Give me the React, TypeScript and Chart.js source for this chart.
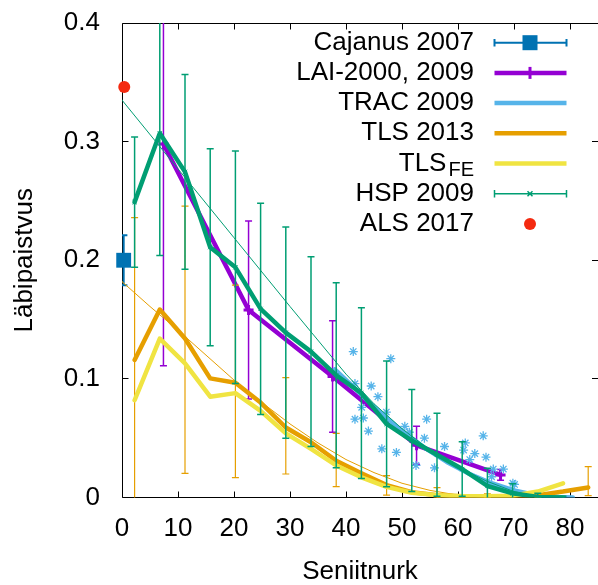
import React, { useEffect, useRef } from 'react';
import { Chart, registerables } from 'chart.js';

Chart.register(...registerables);

const FONT = '"Liberation Sans", Arial, Helvetica, sans-serif';

const BLUE = '#0072b2';
const PURPLE = '#9400d3';
const SKY = '#56b4e9';
const ORANGE = '#e69f00';
const YELLOW = '#f0e442';
const GREEN = '#009e73';
const RED = '#f42a10';

// axis ticks
const xTickValues = [0, 10, 20, 30, 40, 50, 60, 70, 80];
const yTickValues = [0, 0.1, 0.2, 0.3, 0.4];

// legend
const legendLabels = ['Cajanus 2007', 'LAI-2000, 2009', 'TRAC 2009', 'TLS 2013', 'TLS', 'HSP 2009', 'ALS 2017'];
const legendSubscripts = ['', '', '', '', 'FE', '', ''];

// Cajanus 2007
const cajanusAngles = [0.3];
const cajanusValues = [0.2];
const cajanusErrors = [0.021];

// ALS 2017
const alsAngles = [0.4];
const alsValues = [0.346];

// LAI-2000, 2009
const laiAngles = [7.4, 22.6, 37.6, 52.6, 67.6];
const laiValues = [0.298, 0.158, 0.102, 0.044, 0.019];
const laiErrors = [0.187, 0.075, 0.047, 0.016, 0.0045];

// TRAC 2009 (line + scattered points)
const tracAngles = [38, 42, 46, 50, 54, 58, 62, 66, 70, 74, 78, 80.5];
const tracValues = [0.108, 0.09, 0.072, 0.056, 0.042, 0.03, 0.02, 0.012, 0.006, 0.002, 0.0005, 0];
const tracPointAngles = [41.3, 48.0, 44.5, 45.7, 41.6, 43.1, 42.8, 44.0, 46.4, 49.0, 54.4, 54.0, 51.3, 52.5, 55.8, 57.6, 61.3, 64.5, 63.0, 65.0, 61.0, 62.1, 66.3, 68.1, 69.8, 66.0, 70.1, 41.6, 47.2, 50.5];
const tracPointValues = [0.123, 0.117, 0.094, 0.085, 0.066, 0.067, 0.076, 0.056, 0.041, 0.038, 0.066, 0.05, 0.055, 0.027, 0.025, 0.043, 0.046, 0.052, 0.037, 0.034, 0.04, 0.032, 0.024, 0.024, 0.012, 0.0175, 0.011, 0.096, 0.072, 0.06];

// HSP / TLS zenith angles
const hspAngles = [2.25, 6.75, 11.25, 15.75, 20.25, 24.75, 29.25, 33.75, 38.25, 42.75, 47.25, 51.75, 56.25, 60.75, 65.25, 69.75, 74.25, 78.75];
const hspValues = [0.249, 0.307, 0.2745, 0.211, 0.194, 0.159, 0.139, 0.123, 0.103, 0.088, 0.062, 0.048, 0.036, 0.024, 0.0097, 0.0035, 0.0005, 0];
const hspErrors = [0.055, 0.103, 0.082, 0.083, 0.098, 0.089, 0.089, 0.08, 0.078, 0.072, 0.053, 0.043, 0.035, 0.023, 0.015, 0.008, 0.003, 0.001];
const hspFitAngles = [0, 10, 20, 30, 40, 45, 50, 55, 60, 65, 70, 75];
const hspFitValues = [0.335, 0.277, 0.219, 0.161, 0.104, 0.079, 0.058, 0.04, 0.026, 0.014, 0.005, 0];

// TLS 2013
const tlsAngles = [2.25, 6.75, 11.25, 15.75, 20.25, 24.75, 29.25, 33.75, 38.25, 42.75, 47.25, 51.75, 56.25, 60.75, 65.25, 69.75, 74.25, 78.75, 83.25];
const tls2013Values = [0.116, 0.1585, 0.134, 0.1004, 0.0967, 0.08, 0.059, 0.0466, 0.031, 0.0205, 0.0105, 0.0045, 0.002, 0.001, 0.0008, 0.001, 0.002, 0.005, 0.0085];
const tlsErrAngles = [2.25, 11.25, 20.25, 29.25, 38.25, 47.25, 56.25, 65.25, 74.25, 83.25];
const tlsErrLow = [-0.005, 0.0204, 0.0167, 0.0198, 0.0091, 0.002, 0, 0, 0, 0.0015];
const tlsErrHigh = [0.236, 0.2456, 0.179, 0.101, 0.054, 0.0184, 0.0083, 0.003, 0.004, 0.026];
const tlsFitAngles = [0, 5, 10, 15, 20, 25, 30, 35, 40, 45, 50, 55, 60, 65];
const tlsFitValues = [0.182, 0.161, 0.141, 0.12, 0.099, 0.08, 0.062, 0.046, 0.032, 0.021, 0.012, 0.006, 0.002, 0];

// TLS FE
const tlsFeAngles = [2.25, 6.75, 11.25, 15.75, 20.25, 24.75, 29.25, 33.75, 38.25, 42.75, 47.25, 51.75, 56.25, 60.75, 65.25, 69.75, 74.25, 78.75];
const tlsFeValues = [0.082, 0.134, 0.113, 0.085, 0.088, 0.073, 0.054, 0.041, 0.027, 0.017, 0.009, 0.004, 0.002, 0.001, 0.001, 0.0015, 0.005, 0.012];

type P = { x: number; y: number | null };

function pts(xs: number[], ys: number[]): P[] {
  return xs.map((x, i) => ({ x, y: ys[i] }));
}

function errPts(xs: number[], lo: number[], hi: number[]): P[] {
  const out: P[] = [];
  xs.forEach((x, i) => {
    out.push({ x, y: lo[i] }, { x, y: hi[i] }, { x, y: null });
  });
  return out;
}

function errSym(xs: number[], ys: number[], es: number[]): P[] {
  return errPts(
    xs,
    ys.map((y, i) => y - es[i]),
    ys.map((y, i) => y + es[i])
  );
}

function errSet(data: P[], color: string, width: number, cap: number) {
  return {
    type: 'line',
    data,
    borderColor: color,
    backgroundColor: color,
    borderWidth: width,
    pointStyle: 'line',
    pointRadius: cap,
    pointBorderColor: color,
    pointBorderWidth: width,
    pointBackgroundColor: color,
    spanGaps: false,
    tension: 0,
    fill: false,
  };
}

function lineSet(data: P[], color: string, width: number, extra: any = {}) {
  return {
    type: 'line',
    data,
    borderColor: color,
    backgroundColor: color,
    borderWidth: width,
    pointRadius: 0,
    tension: 0,
    fill: false,
    borderJoinStyle: 'round',
    borderCapStyle: 'round',
    ...extra,
  };
}

const framePlugin = {
  id: 'gpFrame',
  beforeDatasetsDraw(chart: any) {
    const { ctx, chartArea: a, scales } = chart;
    const xs = scales.x;
    const ys = scales.y;
    ctx.save();
    ctx.strokeStyle = '#000';
    ctx.lineWidth = 1;
    ctx.beginPath();
    const L = a.left + 0.5;
    const T = a.top + 0.5;
    const B = a.bottom;
    const R = a.right;
    ctx.moveTo(R + 2, T);
    ctx.lineTo(L, T);
    ctx.lineTo(L, B);
    ctx.lineTo(R + 2, B);
    const tl = 6;
    xTickValues.forEach((v) => {
      if (v === 0) return;
      const px = Math.round(xs.getPixelForValue(v)) + 0.5;
      ctx.moveTo(px, B);
      ctx.lineTo(px, B - tl);
      ctx.moveTo(px, T);
      ctx.lineTo(px, T + tl);
    });
    yTickValues.forEach((v) => {
      const py = Math.round(ys.getPixelForValue(v) - 0.5) + 0.5;
      ctx.moveTo(L, py);
      ctx.lineTo(L + tl, py);
      ctx.moveTo(R, py);
      ctx.lineTo(R - tl, py);
    });
    ctx.stroke();
    ctx.restore();
  },
};

const legendPlugin = {
  id: 'gpLegend',
  afterDraw(chart: any) {
    const ctx = chart.ctx as CanvasRenderingContext2D;
    const textRight = 474;
    const x0 = 494.5;
    const x1 = 566.5;
    const xm = 530;
    const y0 = 42.7;
    const dy = 30.2;
    ctx.save();
    legendLabels.forEach((label, i) => {
      const y = y0 + i * dy;
      ctx.fillStyle = '#000';
      ctx.textBaseline = 'middle';
      ctx.textAlign = 'right';
      const sub = legendSubscripts[i];
      if (sub) {
        ctx.font = `20px ${FONT}`;
        const w = ctx.measureText(sub).width;
        ctx.fillText(sub, textRight, y + 7);
        ctx.font = `26px ${FONT}`;
        ctx.fillText(label, textRight - w - 2, y);
      } else {
        ctx.font = `26px ${FONT}`;
        ctx.fillText(label, textRight, y);
      }
      ctx.lineCap = 'butt';
      if (i === 0) {
        ctx.strokeStyle = BLUE;
        ctx.lineWidth = 2;
        ctx.beginPath();
        ctx.moveTo(x0, y);
        ctx.lineTo(x1, y);
        ctx.moveTo(x0, y - 3.7);
        ctx.lineTo(x0, y + 3.7);
        ctx.moveTo(x1, y - 3.7);
        ctx.lineTo(x1, y + 3.7);
        ctx.stroke();
        ctx.fillStyle = BLUE;
        ctx.fillRect(xm - 7.5, y - 7.5, 15, 15);
      } else if (i === 1) {
        ctx.strokeStyle = PURPLE;
        ctx.lineWidth = 4.5;
        ctx.beginPath();
        ctx.moveTo(x0, y);
        ctx.lineTo(x1, y);
        ctx.stroke();
        ctx.lineWidth = 3;
        ctx.beginPath();
        ctx.moveTo(xm, y - 6);
        ctx.lineTo(xm, y + 6);
        ctx.stroke();
      } else if (i >= 2 && i <= 4) {
        ctx.strokeStyle = i === 2 ? SKY : i === 3 ? ORANGE : YELLOW;
        ctx.lineWidth = 4.5;
        ctx.beginPath();
        ctx.moveTo(x0, y);
        ctx.lineTo(x1, y);
        ctx.stroke();
      } else if (i === 5) {
        ctx.strokeStyle = GREEN;
        ctx.lineWidth = 1.5;
        ctx.beginPath();
        ctx.moveTo(x0, y);
        ctx.lineTo(x1, y);
        ctx.moveTo(x0, y - 3.7);
        ctx.lineTo(x0, y + 3.7);
        ctx.moveTo(x1, y - 3.7);
        ctx.lineTo(x1, y + 3.7);
        ctx.moveTo(xm - 2.5, y - 2.5);
        ctx.lineTo(xm + 2.5, y + 2.5);
        ctx.moveTo(xm - 2.5, y + 2.5);
        ctx.lineTo(xm + 2.5, y - 2.5);
        ctx.stroke();
      } else if (i === 6) {
        ctx.fillStyle = RED;
        ctx.beginPath();
        ctx.arc(xm, y, 6, 0, Math.PI * 2);
        ctx.fill();
      }
    });
    ctx.restore();
  },
};

function buildDatasets() {
  const list: any[] = [
    errSet(errSym(cajanusAngles, cajanusValues, cajanusErrors), BLUE, 2, 3.7),
    {
      type: 'line',
      data: pts(cajanusAngles, cajanusValues),
      showLine: false,
      pointStyle: 'rect',
      pointRadius: 10.5,
      pointBackgroundColor: BLUE,
      pointBorderColor: BLUE,
      pointBorderWidth: 0,
      clip: false,
    },
    errSet(errSym(laiAngles, laiValues, laiErrors), PURPLE, 1.5, 3.5),
    lineSet(pts(laiAngles, laiValues), PURPLE, 4.5, {
      pointStyle: 'cross',
      pointRadius: 5,
      pointBorderWidth: 3,
      pointBorderColor: PURPLE,
    }),
    lineSet(pts(tracAngles, tracValues), SKY, 4.5),
    {
      type: 'line',
      data: pts(tracPointAngles, tracPointValues),
      showLine: false,
      pointStyle: 'star',
      pointRadius: 4.5,
      pointBorderColor: SKY,
      pointBackgroundColor: SKY,
      pointBorderWidth: 1.3,
    },
    errSet(errPts(tlsErrAngles, tlsErrLow, tlsErrHigh), ORANGE, 1.2, 3.5),
    lineSet(pts(tlsAngles, tls2013Values), ORANGE, 4.5),
    lineSet(pts(tlsFitAngles, tlsFitValues), ORANGE, 1),
    lineSet(pts(tlsFeAngles, tlsFeValues), YELLOW, 4.5),
    errSet(errSym(hspAngles, hspValues, hspErrors), GREEN, 1.5, 3.5),
    lineSet(pts(hspAngles, hspValues), GREEN, 4.5, {
      pointStyle: 'crossRot',
      pointRadius: 3,
      pointBorderWidth: 1,
      pointBorderColor: GREEN,
    }),
    lineSet(pts(hspFitAngles, hspFitValues), GREEN, 1),
    {
      type: 'line',
      data: pts(alsAngles, alsValues),
      showLine: false,
      pointStyle: 'circle',
      pointRadius: 6,
      pointBackgroundColor: RED,
      pointBorderColor: RED,
      pointBorderWidth: 0,
      clip: false,
    },
  ];
  return list.map((d, i) => ({ ...d, order: 100 - i }));
}

function zeroPad(s: any) {
  s.paddingTop = 0;
  s.paddingBottom = 0;
  s.paddingLeft = 0;
  s.paddingRight = 0;
}

export default function App() {
  const ref = useRef<HTMLCanvasElement | null>(null);
  useEffect(() => {
    if (!ref.current) return;
    const tickFont = { family: FONT, size: 26 };
    const chart = new Chart(ref.current, {
      type: 'line',
      data: { datasets: buildDatasets() },
      options: {
        animation: false,
        responsive: false,
        events: [],
        layout: { autoPadding: false, padding: { top: 23, right: 0, left: 0, bottom: 0 } },
        plugins: {
          legend: { display: false },
          tooltip: { enabled: false },
        },
        scales: {
          x: {
            type: 'linear',
            min: 0,
            max: 85,
            grid: { display: false, drawTicks: false },
            border: { display: false },
            ticks: {
              stepSize: 10,
              includeBounds: false,
              autoSkip: false,
              maxRotation: 0,
              padding: 16,
              color: '#000',
              font: tickFont,
            },
            title: {
              display: true,
              text: 'Seniitnurk',
              color: '#000',
              font: { family: FONT, size: 26, lineHeight: 1 },
              padding: { top: 0, bottom: 0 },
            },
            afterFit: (s: any) => {
              s.height = 87.5;
              zeroPad(s);
            },
          },
          y: {
            type: 'linear',
            min: 0,
            max: 0.4,
            grid: { display: false, drawTicks: false },
            border: { display: false },
            ticks: {
              stepSize: 0.1,
              includeBounds: false,
              autoSkip: false,
              padding: 22,
              color: '#000',
              font: tickFont,
            },
            title: {
              display: true,
              text: 'Läbipaistvus',
              color: '#000',
              font: { family: FONT, size: 26, lineHeight: 1 },
              padding: { top: 12, bottom: 0 },
            },
            afterFit: (s: any) => {
              s.width = 122;
              zeroPad(s);
            },
          },
        },
      } as any,
      plugins: [framePlugin, legendPlugin],
    } as any);
    return () => chart.destroy();
  }, []);
  return (
    <div style={{ position: 'fixed', left: 0, top: 0, width: 598, height: 585, background: '#fff' }}>
      <canvas ref={ref} width={598} height={585} style={{ display: 'block', width: 598, height: 585 }} />
    </div>
  );
}
